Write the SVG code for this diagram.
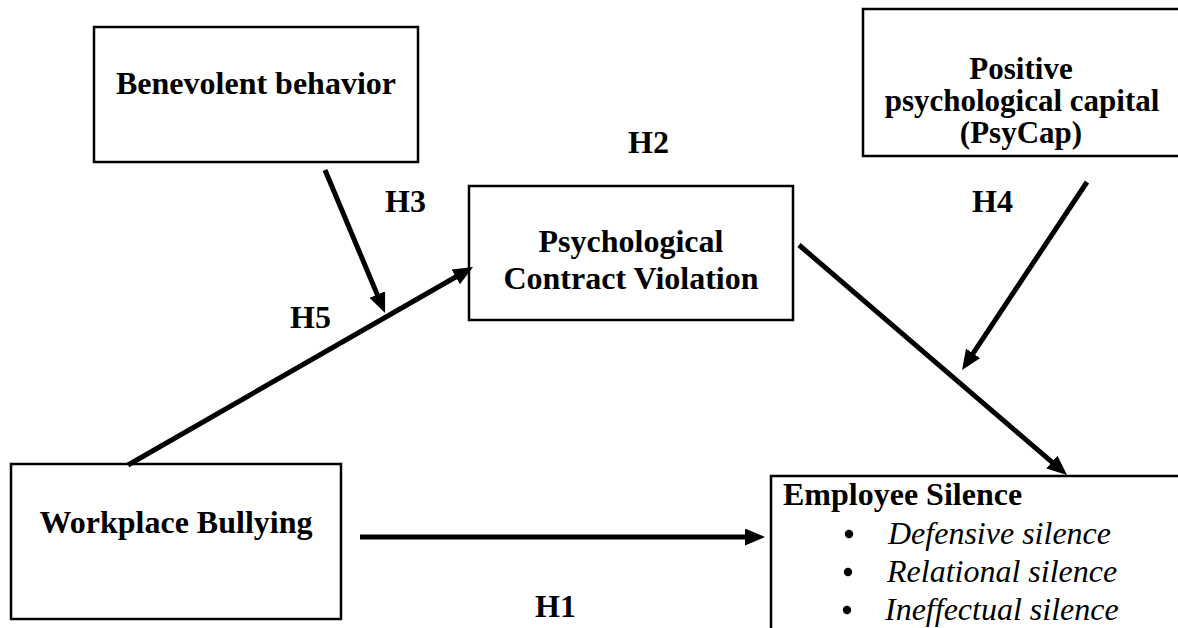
<svg xmlns="http://www.w3.org/2000/svg" width="1178" height="628" viewBox="0 0 1178 628">
<style>
.box{fill:#fff;stroke:#000;stroke-width:2.5}
.t{font-family:"Liberation Serif","Times New Roman",serif;font-size:32px;font-weight:bold;fill:#000}
.c{text-anchor:middle}
.s{font-size:31px}
.i{font-family:"Liberation Serif","Times New Roman",serif;font-size:32px;font-style:italic;fill:#000}
.a{stroke:#000;stroke-width:5;fill:none;marker-end:url(#ah)}
</style>
<defs>
<marker id="ah" markerUnits="userSpaceOnUse" markerWidth="22" markerHeight="18" refX="6" refY="8.5" orient="auto">
<path d="M0,0 L20,8.5 L0,17 z" fill="#000"/>
</marker>
</defs>
<rect width="1178" height="628" fill="#fff"/>
<g id="benevolent">
<rect class="box" x="94" y="27" width="324" height="135"/>
<text class="t c" x="256" y="94">Benevolent behavior</text>
</g>
<g id="psycap">
<rect class="box" x="863" y="9" width="340" height="147"/>
<text class="t c s" x="1021" y="79">Positive</text>
<text class="t c s" x="1022" y="111">psychological capital</text>
<text class="t c s" x="1021" y="143">(PsyCap)</text>
</g>
<g id="pcv">
<rect class="box" x="469" y="186" width="324" height="134"/>
<text class="t c" x="631" y="252">Psychological</text>
<text class="t c" x="631" y="289">Contract Violation</text>
</g>
<g id="bullying">
<rect class="box" x="11" y="464" width="330" height="155"/>
<text class="t c" x="176" y="533">Workplace Bullying</text>
</g>
<g id="silence">
<rect class="box" x="771" y="476" width="430" height="180"/>
<text class="t" x="783" y="505">Employee Silence</text>
<circle cx="849" cy="534" r="4.2"/>
<text class="i" x="888" y="544">Defensive silence</text>
<circle cx="848" cy="572" r="4.2"/>
<text class="i" x="887" y="582">Relational silence</text>
<circle cx="847" cy="610" r="4.2"/>
<text class="i" x="885" y="620">Ineffectual silence</text>
</g>
<g id="connectors">
<line class="a" x1="325" y1="170" x2="379.6" y2="300.1"/>
<line class="a" x1="128" y1="465" x2="460.9" y2="274"/>
<line class="a" x1="1087" y1="182" x2="969.8" y2="358.3"/>
<line class="a" x1="799" y1="245" x2="1056.4" y2="465.9"/>
<line class="a" x1="360" y1="537" x2="751" y2="537"/>
</g>
<g id="labels">
<text class="t" x="628" y="153">H2</text>
<text class="t" x="385" y="212">H3</text>
<text class="t" x="972" y="212">H4</text>
<text class="t" x="290" y="328">H5</text>
<text class="t" x="535" y="617">H1</text>
</g>
</svg>
